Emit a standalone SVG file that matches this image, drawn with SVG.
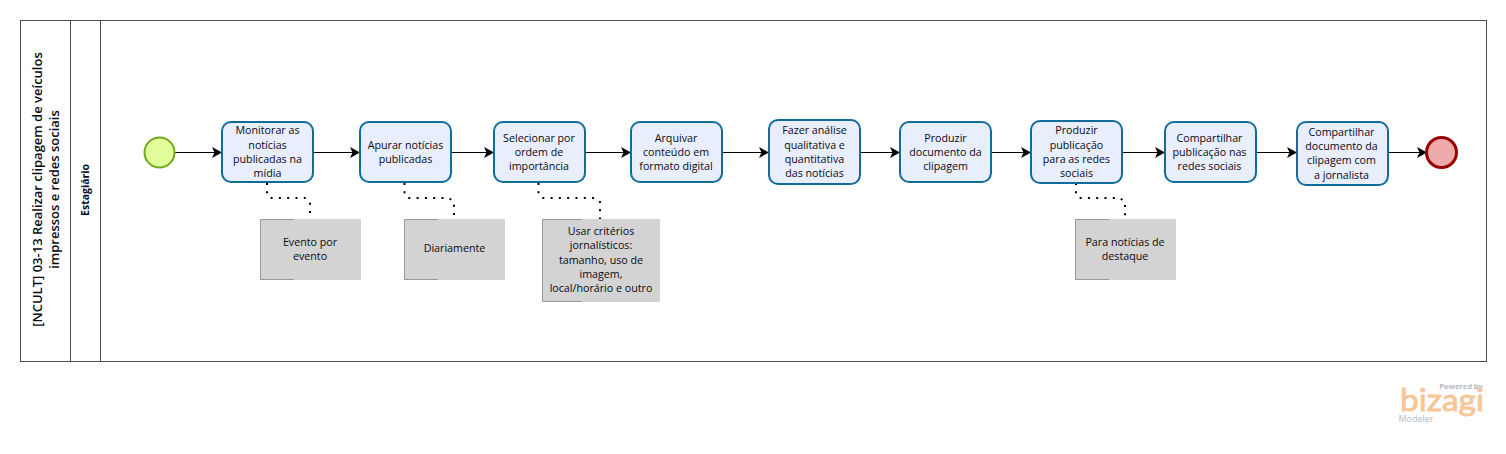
<svg xmlns="http://www.w3.org/2000/svg" width="1506" height="454" viewBox="0 0 1506 454">
<style>
text{font-family:"Open Sans","Noto Sans","DejaVu Sans",sans-serif;font-size:10.7px;fill:#0a0a14;text-anchor:middle}
.pool{fill:#fff;stroke:#505050;stroke-width:1}
.task{fill:#e9eefd;stroke:#116b9c;stroke-width:2}
.note{fill:#d3d3d3}
.br{fill:none;stroke:#999;stroke-width:1}
.flow{fill:none;stroke:#000;stroke-width:1.2;marker-end:url(#arr)}
.dot{fill:none;stroke:#000;stroke-width:2;stroke-dasharray:2 6.300}
.title{font-size:13px;font-weight:600}
.lane{font-size:10.500px;font-weight:700}
</style>
<defs><marker id="arr" markerUnits="userSpaceOnUse" markerWidth="11" markerHeight="12" refX="10" refY="5.500" orient="auto"><path d="M0 0L10 5.500L0 11L2.500 5.500Z" fill="#000"/></marker></defs>
<rect width="1506" height="454" fill="#fff"/>
<g id="pool">
<rect class="pool" x="20.500" y="20.500" width="1466" height="341"/>
<path class="pool" d="M70.500 20.500V361.500M100.500 20.500V361.500"/>
<text class="title" transform="translate(41.500 189.500) rotate(-90)">[NCULT] 03-13 Realizar clipagem de veículos</text>
<text class="title" transform="translate(59 189.500) rotate(-90)">impressos e redes sociais</text>
<text class="lane" transform="translate(89 190) rotate(-90)">Estagiário</text>
</g>
<g id="connectors">
<path class="flow" d="M174.500 152.500H222"/>
<path class="flow" d="M313 152.500H360"/>
<path class="flow" d="M451 152.500H494"/>
<path class="flow" d="M585 152.500H631"/>
<path class="flow" d="M722 152.500H769"/>
<path class="flow" d="M860 152.500H900"/>
<path class="flow" d="M991 152.500H1031"/>
<path class="flow" d="M1122 152.500H1165"/>
<path class="flow" d="M1256 152.500H1297"/>
<path class="flow" d="M1388 152.500H1427"/>
<path class="dot" d="M267 183V194L270 198H305L310 202V219"/>
<path class="dot" d="M404.500 183V194L408 198H449L454 202V219"/>
<path class="dot" d="M538.500 183V194L542 198H595L600 202V219"/>
<path class="dot" d="M1076 183V194L1079 198H1120L1125 202V219"/>
</g>
<g id="start"><circle cx="159.500" cy="152.500" r="15" fill="#e3ff9c" stroke="#6fa81e" stroke-width="2"/></g>
<g id="task1"><rect class="task" x="222" y="122" width="91" height="60" rx="9"/><text x="267.500" y="134">Monitorar as</text><text x="267.500" y="149">notícias</text><text x="267.500" y="163">publicadas na</text><text x="267.500" y="177">mídia</text></g>
<g id="task2"><rect class="task" x="360" y="122" width="91" height="60" rx="9"/><text x="405.500" y="149">Apurar notícias</text><text x="405.500" y="163">publicadas</text></g>
<g id="task3"><rect class="task" x="494" y="122" width="91" height="60" rx="9"/><text x="539" y="142">Selecionar por</text><text x="539" y="156">ordem de</text><text x="539" y="170">importância</text></g>
<g id="task4"><rect class="task" x="631" y="122" width="91" height="60" rx="9"/><text x="676" y="142">Arquivar</text><text x="676" y="156">conteúdo em</text><text x="676" y="170">formato digital</text></g>
<g id="task5"><rect class="task" x="769" y="120" width="91" height="64" rx="9"/><text x="814.500" y="134">Fazer análise</text><text x="814.500" y="149">qualitativa e</text><text x="814.500" y="163">quantitativa</text><text x="814.500" y="177">das notícias</text></g>
<g id="task6"><rect class="task" x="900" y="122" width="91" height="60" rx="9"/><text x="945.500" y="142">Produzir</text><text x="945.500" y="156">documento da</text><text x="945.500" y="170">clipagem</text></g>
<g id="task7"><rect class="task" x="1031" y="121" width="91" height="62" rx="9"/><text x="1076.500" y="134">Produzir</text><text x="1076.500" y="149">publicação</text><text x="1076.500" y="163">para as redes</text><text x="1076.500" y="177">sociais</text></g>
<g id="task8"><rect class="task" x="1165" y="122" width="91" height="60" rx="9"/><text x="1209.500" y="142">Compartilhar</text><text x="1209.500" y="156">publicação nas</text><text x="1209.500" y="170">redes sociais</text></g>
<g id="task9"><rect class="task" x="1297" y="122" width="91" height="63" rx="9"/><text x="1341.500" y="136">Compartilhar</text><text x="1341.500" y="150">documento da</text><text x="1341.500" y="164">clipagem com</text><text x="1341.500" y="179">a jornalista</text></g>
<g id="end"><circle cx="1441.500" cy="152.500" r="15" fill="#eeaaaa" stroke="#990000" stroke-width="3"/></g>
<g id="note1"><rect class="note" x="260" y="219" width="101" height="61"/><path class="br" d="M294 219.500H260.500V279.500H294"/><text x="310" y="246">Evento por</text><text x="310" y="260">evento</text></g>
<g id="note2"><rect class="note" x="404" y="219" width="101" height="61"/><path class="br" d="M438 219.500H404.500V279.500H438"/><text x="454.500" y="252">Diariamente</text></g>
<g id="note3"><rect class="note" x="542" y="219" width="118" height="83"/><path class="br" d="M582 219.500H542.500V301.500H582"/><text x="601" y="235">Usar critérios</text><text x="601" y="249">jornalísticos:</text><text x="601" y="264">tamanho, uso de</text><text x="601" y="278">imagem,</text><text x="601" y="292">local/horário e outro</text></g>
<g id="note4"><rect class="note" x="1075" y="219" width="101" height="61"/><path class="br" d="M1109 219.500H1075.500V279.500H1109"/><text x="1125" y="246">Para notícias de</text><text x="1125" y="260">destaque</text></g>
<g id="logo">
<text x="1461" y="388.500" style="font-size:7.500px;font-weight:700;fill:#b4bac0">Powered by</text>
<text x="1442" y="410.500" textLength="84" lengthAdjust="spacingAndGlyphs" style="font-family:Lato,'Open Sans',sans-serif;font-size:31px;font-weight:400;fill:#f8c597;stroke:#f8c597;stroke-width:.8px">bizagi</text>
<text x="1416" y="422" style="font-size:9px;fill:#b4bac0">Modeler</text>
</g>
</svg>
